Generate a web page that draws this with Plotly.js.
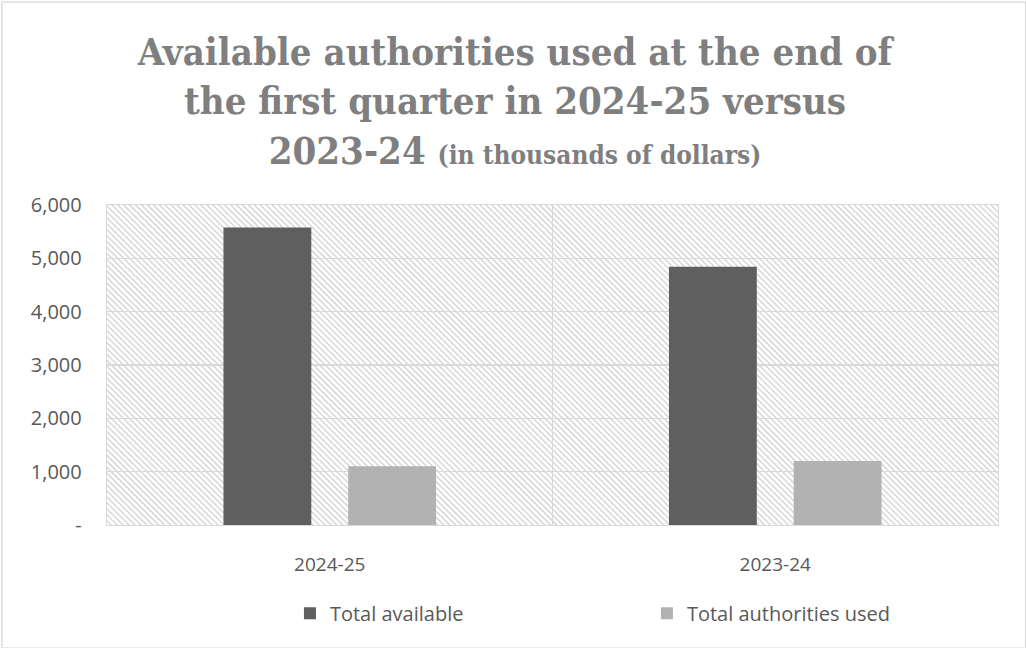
<!DOCTYPE html>
<html>
<head>
<meta charset="utf-8">
<script src="https://cdn.plot.ly/plotly-3.0.1.min.js"></script>
<style>html,body{margin:0;padding:0;background:#fff;}#chart{width:1026px;height:648px;}</style>
</head>
<body>
<div id="chart"></div>
<script>
const categories = ["2024-25", "2023-24"];
const totalAvailable = [5580, 4840];
const totalUsed = [1100, 1200];
const seriesNames = ["Total available", "Total authorities used"];
const yTickVals = [0, 1000, 2000, 3000, 4000, 5000, 6000];
const yTickText = ["-", "1,000", "2,000", "3,000", "4,000", "5,000", "6,000"];

const hatchSvg = '<svg xmlns="http://www.w3.org/2000/svg" width="891" height="320">' +
  '<defs><pattern id="p" width="4.2" height="4.2" patternUnits="userSpaceOnUse" patternTransform="rotate(45)">' +
  '<rect width="4.2" height="4.2" fill="#ffffff"/><rect width="4.2" height="1.4" fill="#d4d4d4"/></pattern></defs>' +
  '<rect width="891" height="320" fill="url(#p)"/></svg>';
const hatchUri = 'data:image/svg+xml;base64,' + btoa(hatchSvg);

const font = "'Open Sans', 'Noto Sans', sans-serif";
const traces = [
  {type: 'bar', x: categories, y: totalAvailable, name: seriesNames[0], marker: {color: '#5f5f5f'}, hoverinfo: 'none'},
  {type: 'bar', x: categories, y: totalUsed, name: seriesNames[1], marker: {color: '#b2b2b2'}, hoverinfo: 'none'}
];

const layout = {
  width: 1026, height: 648,
  margin: {l: 107, r: 28, t: 205, b: 123},
  paper_bgcolor: '#ffffff',
  plot_bgcolor: 'rgba(0,0,0,0)',
  barmode: 'group', bargap: 0.44, bargroupgap: 0.296,
  title: {
    text: 'Available authorities used at the end of<br>the first quarter in 2024-25 versus<br>2023-24 <span style="font-size:26px">(in thousands of dollars)</span>',
    font: {family: "'DejaVu Serif Condensed', 'DejaVu Serif', serif", size: 38, color: '#7f7f7f', weight: 'bold'},
    x: 0.502, xanchor: 'center', xref: 'container',
    y: 0.90, yanchor: 'top', yref: 'container'
  },
  xaxis: {
    type: 'category', tickson: 'boundaries', showgrid: true, gridcolor: '#d9d9d9', gridwidth: 1.3,
    ticks: '', showline: true, linecolor: '#d9d9d9', linewidth: 1.3, mirror: true,
    tickfont: {family: font, size: 19, color: '#595959'}, zeroline: false, ticklabelstandoff: 22
  },
  yaxis: {
    range: [0, 6000], tickvals: yTickVals, ticktext: yTickText,
    showgrid: true, gridcolor: '#d9d9d9', gridwidth: 1.3, zeroline: false,
    showline: true, linecolor: '#d9d9d9', linewidth: 1.3, mirror: true, ticks: '',
    tickfont: {family: font, size: 20, color: '#595959'}, ticklabelstandoff: 20
  },
  images: [{source: hatchUri, xref: 'paper', yref: 'paper', x: 0, y: 1, sizex: 1, sizey: 1,
            sizing: 'stretch', layer: 'below', xanchor: 'left', yanchor: 'top'}],
  legend: {orientation: 'h', x: 0.606, xanchor: 'center', y: -0.215, yanchor: 'top',
           font: {family: font, size: 20, color: '#595959'}, itemwidth: 30, entrywidth: 312},
  shapes: [{type: 'rect', xref: 'paper', yref: 'paper', x0: -0.118, x1: 1.031, y0: -0.385, y1: 1.634,
            line: {color: '#d9d9d9', width: 1.3}, fillcolor: 'rgba(0,0,0,0)'}],
  showlegend: true
};

Plotly.newPlot('chart', traces, layout, {staticPlot: true, displayModeBar: false});
</script>
</body>
</html>
